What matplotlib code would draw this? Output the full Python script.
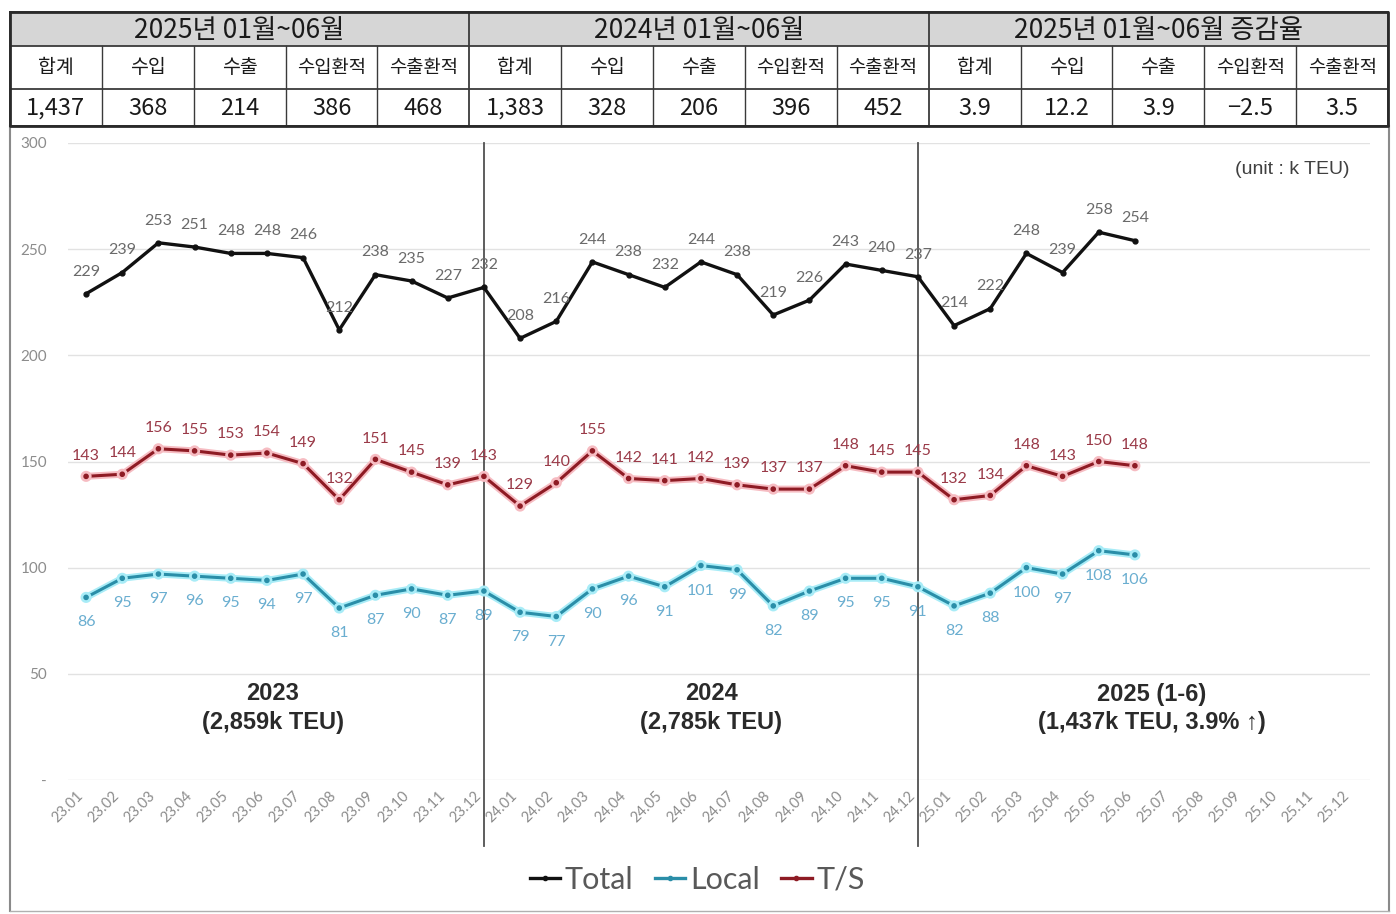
import matplotlib
matplotlib.use("Agg")
import matplotlib.pyplot as plt
import matplotlib.patheffects as pe
from matplotlib.lines import Line2D
from matplotlib.patches import Rectangle
import numpy as np

# ---------------- data ----------------
months = ["23.01", "23.02", "23.03", "23.04", "23.05", "23.06", "23.07", "23.08", "23.09", "23.10", "23.11", "23.12",
          "24.01", "24.02", "24.03", "24.04", "24.05", "24.06", "24.07", "24.08", "24.09", "24.10", "24.11", "24.12",
          "25.01", "25.02", "25.03", "25.04", "25.05", "25.06", "25.07", "25.08", "25.09", "25.10", "25.11", "25.12"]
total = [229, 239, 253, 251, 248, 248, 246, 212, 238, 235, 227, 232,
         208, 216, 244, 238, 232, 244, 238, 219, 226, 243, 240, 237,
         214, 222, 248, 239, 258, 254]
local = [86, 95, 97, 96, 95, 94, 97, 81, 87, 90, 87, 89,
         79, 77, 90, 96, 91, 101, 99, 82, 89, 95, 95, 91,
         82, 88, 100, 97, 108, 106]
ts = [143, 144, 156, 155, 153, 154, 149, 132, 151, 145, 139, 143,
      129, 140, 155, 142, 141, 142, 139, 137, 137, 148, 145, 145,
      132, 134, 148, 143, 150, 148]
series_names = ["Total", "Local", "T/S"]

table_groups = ["2025년 01월~06월", "2024년 01월~06월", "2025년 01월~06월 증감율"]
table_cols = ["합계", "수입", "수출", "수입환적", "수출환적"]
table_2025 = [1437, 368, 214, 386, 468]
table_2024 = [1383, 328, 206, 396, 452]
table_rate = [3.9, 12.2, 3.9, -2.5, 3.5]

year_titles = ["2023", "2024", "2025 (1-6)"]
year_totals = [2859, 2785, 1437]
growth_2025 = 3.9
unit_text = "(unit : k TEU)"

# ---------------- figure ----------------
W, H = 1396, 914
fig = plt.figure(figsize=(W / 100, H / 100), dpi=100)
fig.patch.set_facecolor("white")

bg = fig.add_axes([0, 0, 1, 1], zorder=0)
bg.set_xlim(0, W)
bg.set_ylim(H, 0)
bg.axis("off")

KR = ["Noto Sans CJK KR", "DejaVu Sans"]
CAL = ["Lato", "DejaVu Sans"]
ARI = ["Liberation Sans", "DejaVu Sans"]

# ---------------- table ----------------
col_x = np.linspace(10, 1388, 16)
row_y = [12, 46, 89, 126]
bg.add_patch(Rectangle((col_x[0], row_y[0]), col_x[-1] - col_x[0], row_y[1] - row_y[0],
                       facecolor="#d6d6d6", edgecolor="none", zorder=1))
for yy in row_y:
    bg.plot([col_x[0], col_x[-1]], [yy, yy], color="#3a3a3a", lw=1.3, zorder=2)
for k, xx in enumerate(col_x):
    top = row_y[0] if k % 5 == 0 else row_y[1]
    bg.plot([xx, xx], [top, row_y[3]], color="#3a3a3a", lw=1.3 if k % 5 == 0 else 1.0, zorder=2)
bg.plot([col_x[0], col_x[-1], col_x[-1], col_x[0], col_x[0]],
        [row_y[0], row_y[0], row_y[3], row_y[3], row_y[0]], color="#2a2a2a", lw=2.0, zorder=3)


def fmt_int(v):
    return f"{v:,}"


def fmt_rate(v):
    return f"{v:.1f}".replace("-", "\u2212")


row_values = [[fmt_int(v) for v in table_2025], [fmt_int(v) for v in table_2024], [fmt_rate(v) for v in table_rate]]
for g in range(3):
    cx = (col_x[g * 5] + col_x[g * 5 + 5]) / 2
    bg.text(cx, (row_y[0] + row_y[1]) / 2 + 1, table_groups[g], ha="center", va="center",
            fontsize=19, family=KR, color="#1a1a1a", zorder=4)
    for c in range(5):
        cxx = (col_x[g * 5 + c] + col_x[g * 5 + c + 1]) / 2
        bg.text(cxx, (row_y[1] + row_y[2]) / 2, table_cols[c], ha="center", va="center",
                fontsize=14 if len(table_cols[c]) <= 2 else 13.5, family=KR, color="#1a1a1a", zorder=4)
        bg.text(cxx, (row_y[2] + row_y[3]) / 2 + 1, row_values[g][c], ha="center", va="center",
                fontsize=17, family=KR, color="#1a1a1a", zorder=4)

# chart frame
bg.plot([10, 10], [126, 911], color="#8a8a8a", lw=1.5, zorder=1)
bg.plot([1389, 1389], [126, 911], color="#8a8a8a", lw=1.5, zorder=1)
bg.plot([10, 1389], [911, 911], color="#b0b0b0", lw=1.0, zorder=1)

# ---------------- chart ----------------
left, right, top, bottom = 68, 1370, 143, 780
ax = fig.add_axes([left / W, 1 - bottom / H, (right - left) / W, (bottom - top) / H], zorder=2)
ax.patch.set_alpha(0)
ax.set_xlim(-0.5, len(months) - 0.5)
ax.set_ylim(0, 300)
for s in ax.spines.values():
    s.set_visible(False)

ax.set_yticks(np.arange(0, 301, 50))
ax.set_yticklabels(["-"] + [str(v) for v in range(50, 301, 50)])
ax.tick_params(axis="y", length=0, pad=15, labelsize=11, labelcolor="#8c8c8c")
for t in ax.get_yticklabels():
    t.set_family(CAL)
ax.yaxis.grid(True, color="#e2e2e2", lw=1.0)
ax.set_axisbelow(True)

ax.set_xticks(np.arange(len(months)))
ax.set_xticklabels(months, rotation=45, ha="right", va="top")
ax.tick_params(axis="x", length=0, pad=6, labelsize=10.5, labelcolor="#8c8c8c")
for t in ax.get_xticklabels():
    t.set_family(CAL)

x_data = np.arange(len(total))
c_total, c_ts, c_local = "#111111", "#8e1b24", "#2a8ea8"
ax.plot(x_data, total, color=c_total, lw=2.4, marker="o", ms=3.5, zorder=5)
ax.plot(x_data, ts, color=c_ts, lw=2.2, marker="o", ms=3, zorder=5,
        path_effects=[pe.Stroke(linewidth=5, foreground="#f6bcc2"), pe.Normal()])
ax.plot(x_data, local, color=c_local, lw=2.2, marker="o", ms=3, zorder=5,
        path_effects=[pe.Stroke(linewidth=5, foreground="#a8ecf7"), pe.Normal()])

for i, v in enumerate(total):
    ax.annotate(str(v), (i, v), xytext=(0, 16), textcoords="offset points", ha="center", va="center",
                fontsize=11.5, color="#6a6a6a", family=CAL, zorder=6)
for i, v in enumerate(ts):
    ax.annotate(str(v), (i, v), xytext=(0, 15), textcoords="offset points", ha="center", va="center",
                fontsize=11.5, color="#9a3a48", family=CAL, zorder=6)
for i, v in enumerate(local):
    ax.annotate(str(v), (i, v), xytext=(0, -18), textcoords="offset points", ha="center", va="center",
                fontsize=11.5, color="#6aaed0", family=CAL, zorder=6)

for xi in [11, 23]:
    ax.plot([xi, xi], [300, -31], color="#505050", lw=1.3, clip_on=False, zorder=4)

# year annotations
year_sub = [f"({year_totals[0]:,}k TEU)", f"({year_totals[1]:,}k TEU)",
            f"({year_totals[2]:,}k TEU, {growth_2025}% \u2191)"]
year_cx = [273, 711, 1152]
for cx, t1, t2 in zip(year_cx, year_titles, year_sub):
    bg.text(cx, 694, t1, ha="center", va="center", fontsize=17, fontweight="bold", family=ARI, color="#2a2a2a")
    bg.text(cx, 722, t2, ha="center", va="center", fontsize=17, fontweight="bold", family=ARI, color="#2a2a2a")

bg.text(1292, 170, unit_text, ha="center", va="center", fontsize=14, family=ARI, color="#404040")

# legend
handles = [Line2D([], [], color=c_total, lw=2.4, marker="o", ms=3),
           Line2D([], [], color=c_local, lw=2.4, marker="o", ms=3),
           Line2D([], [], color=c_ts, lw=2.4, marker="o", ms=3)]
leg = fig.legend(handles, series_names, loc="center", bbox_to_anchor=(697 / W, 1 - 880 / H), ncol=3,
                 frameon=False, prop={"family": CAL, "size": 22}, handlelength=1.0, handletextpad=0.15,
                 columnspacing=0.7)
for t in leg.get_texts():
    t.set_color("#595959")

fig.savefig("out.png", dpi=100, facecolor="white")
